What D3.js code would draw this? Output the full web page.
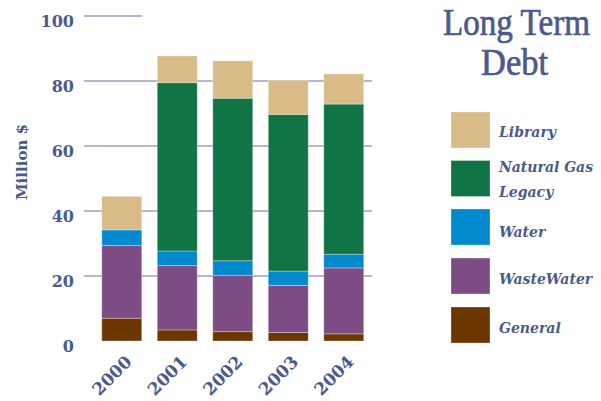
<!DOCTYPE html>
<html>
<head>
<meta charset="utf-8">
<script src="https://cdn.jsdelivr.net/npm/d3@7"></script>
<style>
  body { margin: 0; background: #fff; }
</style>
</head>
<body>
<div id="chart"></div>
<script>
var years = ["2000", "2001", "2002", "2003", "2004"];
var seriesNames = ["General", "WasteWater", "Water", "Natural Gas Legacy", "Library"];
var general = [7.0, 3.4, 2.9, 2.6, 2.2];
var wasteWater = [22.4, 19.8, 17.3, 14.5, 20.3];
var water = [4.8, 4.5, 4.5, 4.4, 4.2];
var naturalGas = [0, 51.8, 50.0, 48.2, 46.2];
var library = [10.3, 8.2, 11.5, 10.5, 9.3];
var yTicks = [0, 20, 40, 60, 80, 100];
var colors = ["#6b3600", "#7d4c85", "#0089cc", "#107447", "#d9bb87"];

var w = 601, h = 401;
var textColor = "#4b5a8c";

var table = years.map(function(y, i) {
    return {
        year: y,
        "General": general[i],
        "WasteWater": wasteWater[i],
        "Water": water[i],
        "Natural Gas Legacy": naturalGas[i],
        "Library": library[i]
    };
});

var svg = d3.select("#chart").append("svg")
    .attr("width", w)
    .attr("height", h);

var x = d3.scaleBand()
    .domain(years)
    .range([94, 371.5])
    .paddingInner(0.28)
    .paddingOuter(0.14);

var y = d3.scaleLinear()
    .domain([0, 100])
    .range([341, 16]);

// gridlines (the top one is cut short in the original)
svg.selectAll("line.grid")
    .data(yTicks.filter(function(d) { return d > 0; }))
    .enter().append("line")
    .attr("class", "grid")
    .attr("x1", 84)
    .attr("x2", function(d) { return d == 100 ? 142 : 372; })
    .attr("y1", function(d) { return y(d); })
    .attr("y2", function(d) { return y(d); })
    .attr("stroke", "#a09cc0")
    .attr("stroke-width", 1.4);

svg.selectAll("text.ytick")
    .data(yTicks)
    .enter().append("text")
    .attr("class", "ytick")
    .attr("x", 74)
    .attr("y", function(d) { return y(d) + 5; })
    .attr("dy", "0.35em")
    .attr("text-anchor", "end")
    .attr("font-family", "DejaVu Serif, serif")
    .attr("font-weight", "bold")
    .attr("font-size", "16px")
    .attr("fill", textColor)
    .text(function(d) { return d; });

svg.append("text")
    .attr("transform", "translate(27,162)rotate(-90)")
    .attr("text-anchor", "middle")
    .attr("font-family", "DejaVu Serif, serif")
    .attr("font-weight", "bold")
    .attr("font-size", "15px")
    .attr("fill", textColor)
    .text("Million $");

var stack = d3.stack().keys(seriesNames);
var layers = stack(table);

var layer = svg.selectAll("g.layer")
    .data(layers)
    .enter().append("g")
    .attr("class", "layer")
    .attr("fill", function(d, i) { return colors[i]; });

layer.selectAll("rect")
    .data(function(d) { return d.filter(function(s) { return s[1] - s[0] > 0; }); })
    .enter().append("rect")
    .attr("x", function(d) { return x(d.data.year); })
    .attr("width", x.bandwidth())
    .attr("y", function(d) { return y(d[1]); })
    .attr("height", function(d) { return y(d[0]) - y(d[1]); })
    .attr("stroke", "#fff")
    .attr("stroke-opacity", 0.3)
    .attr("stroke-width", 1);

svg.selectAll("text.xtick")
    .data(years)
    .enter().append("text")
    .attr("class", "xtick")
    .attr("transform", function(d) {
        return "translate(" + (x(d) + x.bandwidth() / 2 + 11) + ",363)rotate(-45)";
    })
    .attr("text-anchor", "end")
    .attr("font-family", "DejaVu Serif, serif")
    .attr("font-weight", "bold")
    .attr("font-size", "17px")
    .attr("fill", textColor)
    .text(function(d) { return d; });

// title, squeezed horizontally to the width of the original lettering
var titleLines = [
    { text: "Long Term", x: 516.5, y: 35, len: 147 },
    { text: "Debt", x: 514.5, y: 75, len: 67 }
];

svg.selectAll("text.title")
    .data(titleLines)
    .enter().append("text")
    .attr("class", "title")
    .attr("text-anchor", "middle")
    .attr("font-family", "Liberation Serif, serif")
    .attr("font-size", "37px")
    .attr("fill", textColor)
    .attr("stroke", textColor)
    .attr("stroke-width", 0.7)
    .text(function(d) { return d.text; })
    .attr("transform", function(d) {
        var k = d.len / this.getComputedTextLength();
        return "translate(" + d.x + "," + d.y + ")scale(" + k + ",1)";
    });

// legend, top to bottom
var legendItems = [
    { name: "Library", lines: ["Library"], color: colors[4], top: 112, base: [137] },
    { name: "Natural Gas Legacy", lines: ["Natural Gas", "Legacy"], color: colors[3], top: 160.5, base: [172, 197] },
    { name: "Water", lines: ["Water"], color: colors[2], top: 209, base: [237] },
    { name: "WasteWater", lines: ["WasteWater"], color: colors[1], top: 258, base: [284] },
    { name: "General", lines: ["General"], color: colors[0], top: 307, base: [333] }
];

var legend = svg.selectAll("g.legend")
    .data(legendItems)
    .enter().append("g")
    .attr("class", "legend");

legend.append("rect")
    .attr("x", 451)
    .attr("y", function(d) { return d.top; })
    .attr("width", 39)
    .attr("height", 36)
    .attr("fill", function(d) { return d.color; })
    .attr("stroke", "#fff")
    .attr("stroke-opacity", 0.3);

legend.each(function(d) {
    var g = d3.select(this);
    d.lines.forEach(function(l, i) {
        g.append("text")
            .attr("x", 499)
            .attr("y", d.base[i])
            .attr("font-family", "DejaVu Serif, serif")
            .attr("font-style", "italic")
            .attr("font-weight", "bold")
            .attr("font-size", "14px")
            .attr("fill", textColor)
            .text(l);
    });
});
</script>
</body>
</html>
